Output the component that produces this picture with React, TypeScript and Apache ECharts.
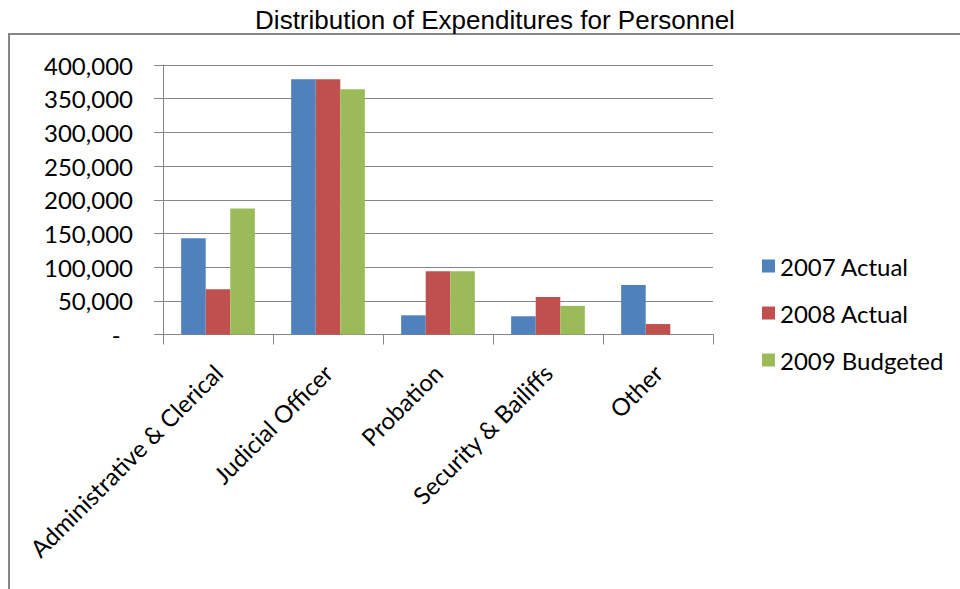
import React, { useEffect, useRef } from "react";
import * as echarts from "echarts";

const categories = [
  "Administrative & Clerical",
  "Judicial Officer",
  "Probation",
  "Security & Bailiffs",
  "Other",
];
const seriesNames = ["2007 Actual", "2008 Actual", "2009 Budgeted"];
const actual2007 = [143000, 379000, 28500, 27000, 73500];
const actual2008 = [67000, 379000, 94000, 55500, 15500];
const budget2009 = [187000, 364000, 94000, 42500, 0];
const colors = ["#4F81BD", "#C0504D", "#9BBB59"];

export default function App() {
  const ref = useRef<HTMLDivElement>(null);
  useEffect(() => {
    if (!ref.current) return;
    const chart = echarts.init(ref.current, null, { renderer: "svg" });
    const data = [actual2007, actual2008, budget2009];
    chart.setOption({
      animation: false,
      backgroundColor: "#ffffff",
      title: {
        text: "Distribution of Expenditures for Personnel",
        left: 490,
        textAlign: "center",
        top: 2,
        textStyle: {
          fontFamily: "Liberation Sans, Arial, sans-serif",
          fontWeight: "normal",
          fontSize: 26,
          color: "#000",
        },
      },
      graphic: [
        {
          type: "rect",
          shape: { x: 9, y: 34, width: 980, height: 600 },
          style: { fill: "none", stroke: "#868686", lineWidth: 2 },
          silent: true,
        },
      ],
      legend: {
        orient: "vertical",
        left: 757,
        top: 248,
        itemWidth: 13,
        itemHeight: 13,
        itemGap: 21,
        icon: "rect",
        data: seriesNames,
        textStyle: {
          fontFamily: "Lato, sans-serif",
          fontSize: 24,
          lineHeight: 26,
          color: "#000",
        },
      },
      grid: { left: 163, right: 247, top: 65, bottom: 254.5 },
      xAxis: {
        type: "category",
        data: categories,
        axisLine: { lineStyle: { color: "#868686", width: 1 } },
        axisTick: { show: true, length: 10, lineStyle: { color: "#868686" } },
        axisLabel: {
          rotate: 45,
          interval: 0,
          margin: 34,
          fontFamily: "Lato, sans-serif",
          fontSize: 24,
          color: "#000",
        },
      },
      yAxis: {
        type: "value",
        min: 0,
        max: 400000,
        interval: 50000,
        axisLine: { show: true, lineStyle: { color: "#868686" } },
        axisTick: { show: true, length: 9, lineStyle: { color: "#868686" } },
        splitLine: { lineStyle: { color: "#868686", width: 1 } },
        axisLabel: {
          margin: 30,
          fontFamily: "Lato, sans-serif",
          fontSize: 24,
          color: "#000",
          formatter: (v: number) =>
            v === 0 ? "-  " : v.toLocaleString("en-US"),
        },
      },
      series: seriesNames.map((name, i) => ({
        name,
        type: "bar",
        data: data[i],
        barGap: "0%",
        barCategoryGap: "33%",
        itemStyle: { color: colors[i] },
      })),
    });
    return () => chart.dispose();
  }, []);
  return <div ref={ref} style={{ width: 960, height: 589, position: "absolute", left: 0, top: 0 }} />;
}
